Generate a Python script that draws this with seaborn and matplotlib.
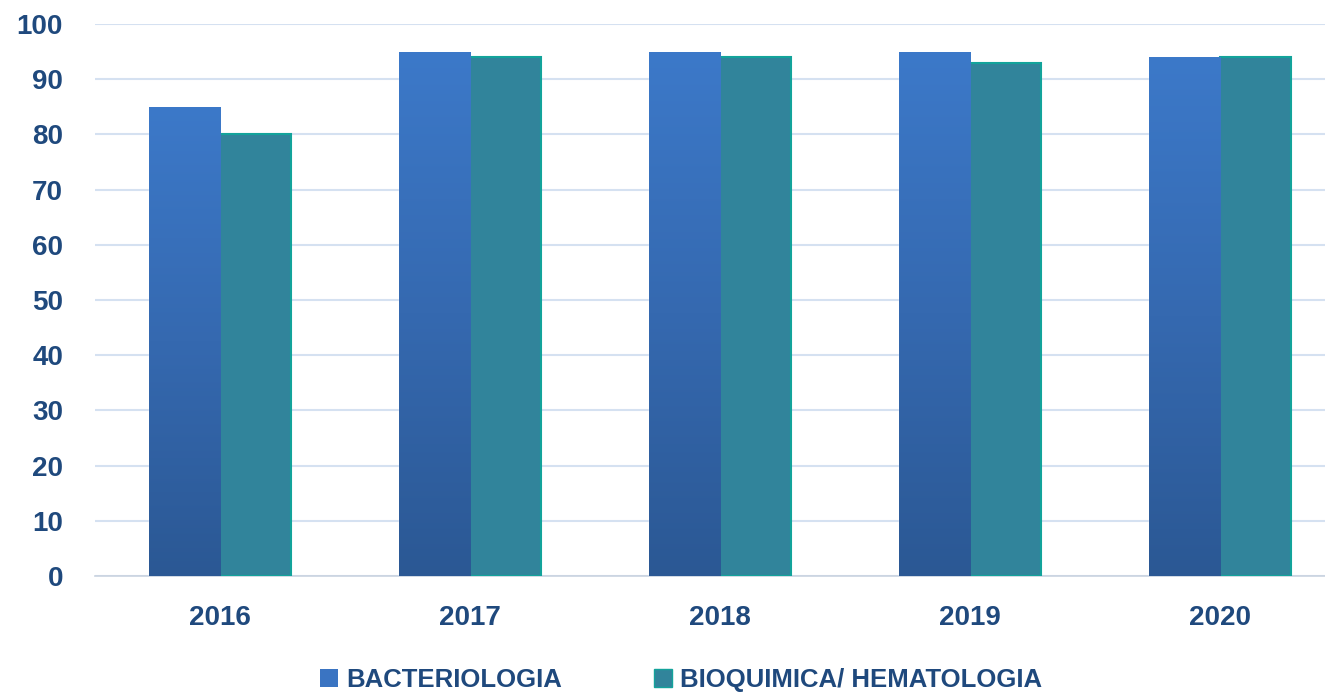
import numpy as np
import pandas as pd
import matplotlib
matplotlib.use('Agg')
import matplotlib.pyplot as plt
from matplotlib.colors import LinearSegmentedColormap
from matplotlib.patches import Patch
import seaborn as sns

years = ['2016', '2017', '2018', '2019', '2020']
bacteriologia = [85, 95, 95, 95, 94]
bioquimica = [80, 94, 94, 93, 94]
series_names = ['BACTERIOLOGIA', 'BIOQUIMICA/ HEMATOLOGIA']

sns.set_theme(style='white')
plt.rcParams['font.family'] = ['Liberation Sans', 'DejaVu Sans']
txt = '#1F497D'

data = pd.DataFrame({
    'year': years * 2,
    'value': bacteriologia + bioquimica,
    'serie': [series_names[0]] * 5 + [series_names[1]] * 5,
})

fig = plt.figure(figsize=(13.25, 6.94), dpi=100)
ax = fig.add_axes([95 / 1325, 1 - 576 / 694, 1 - 95 / 1325, (576 - 24) / 694])

sns.barplot(data=data, x='year', y='value', hue='serie', ax=ax,
            palette=['#3A74C2', '#31849B'], width=0.57, gap=0,
            saturation=1, legend=False, zorder=3)

# blue bars: vertical gradient, teal bars: bright edge
blue_cmap = LinearSegmentedColormap.from_list('b', ['#2B5894', '#3569B0', '#3C79C9'])
grad = np.linspace(0, 1, 256).reshape(-1, 1)
for p in ax.containers[0].patches:
    x0, y0 = p.get_x(), p.get_y()
    w, h = p.get_width(), p.get_height()
    p.set_facecolor('none')
    im = ax.imshow(grad, cmap=blue_cmap, origin='lower', aspect='auto',
                   extent=[x0, x0 + w, y0, y0 + h], zorder=3)
    im.set_clip_path(p)
for p in ax.containers[1].patches:
    p.set_edgecolor('#13A39B')
    p.set_linewidth(1.5)

ax.set_yticks(range(0, 101, 10))
ax.yaxis.grid(True, color='#D5E1F1', linewidth=1.5, zorder=0)
ax.set_axisbelow(True)

for s in ['top', 'right', 'left']:
    ax.spines[s].set_visible(False)
ax.spines['bottom'].set_color('#C9D3E0')
ax.spines['bottom'].set_linewidth(1.2)

ax.set_xticks(range(5))
ax.set_xticklabels(years)
ax.set_xticks(np.arange(-0.5, 4.5, 1), minor=True)
ax.set_xlim(-0.5, 4.42)
ax.set_ylim(0, 100)
ax.tick_params(axis='x', which='major', length=0, pad=21)
ax.tick_params(axis='x', which='minor', length=7, width=1.2, color='#C9D3E0', direction='out')
ax.tick_params(axis='y', length=0, pad=23)
for lab in ax.get_xticklabels() + ax.get_yticklabels():
    lab.set_fontsize(20)
    lab.set_fontweight('bold')
    lab.set_color(txt)
ax.set_xlabel('')
ax.set_ylabel('')

handles = [Patch(facecolor='#3A74C2', edgecolor='none'),
           Patch(facecolor='#31849B', edgecolor='#13A39B')]
leg = fig.legend(handles, series_names, loc='center', bbox_to_anchor=(0.514, 1 - 680 / 694),
                 ncol=2, frameon=False, handlelength=0.7, handleheight=0.7,
                 handletextpad=0.3, columnspacing=3.6,
                 prop={'size': 18.5, 'weight': 'bold'})
for t in leg.get_texts():
    t.set_color(txt)

fig.savefig('out.png', dpi=100)
